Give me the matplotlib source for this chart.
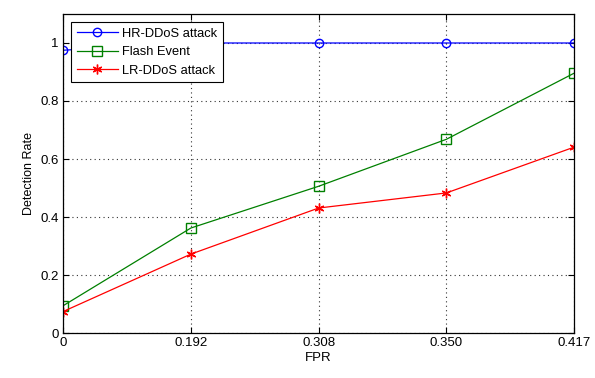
import matplotlib
matplotlib.use("Agg")
import matplotlib.pyplot as plt

plt.rcParams['font.family'] = ['Liberation Sans', 'DejaVu Sans']
plt.rcParams['font.size'] = 9.5

fpr_labels = ['0', '0.192', '0.308', '0.350', '0.417']
hr_ddos = [0.975, 1.0, 1.0, 1.0, 1.0]
flash_event = [0.094, 0.362, 0.506, 0.668, 0.896]
lr_ddos = [0.074, 0.272, 0.431, 0.483, 0.641]

x = list(range(len(fpr_labels)))

fig = plt.figure(figsize=(5.95, 3.78), dpi=100)
ax = fig.add_axes([0.106, 0.119, 0.859, 0.844])

ax.plot(x, hr_ddos, color='blue', marker='o', markersize=6, mfc='none',
        linewidth=0.9, label='HR-DDoS attack')
ax.plot(x, flash_event, color='green', marker='s', markersize=6.5, mfc='none',
        linewidth=0.9, label='Flash Event')
ax.plot(x, lr_ddos, color='red', marker=(6, 2, 0), markersize=7,
        markeredgewidth=1.0, linewidth=0.9, label='LR-DDoS attack')

ax.set_xlim(0, len(x) - 1)
ax.set_ylim(0, 1.1)
ax.set_xticks(x)
ax.set_xticklabels(fpr_labels)
ax.set_yticks([0, 0.2, 0.4, 0.6, 0.8, 1.0])
ax.set_yticklabels(['0', '0.2', '0.4', '0.6', '0.8', '1'])
ax.tick_params(direction='in', length=4, top=True, right=True, pad=3)
ax.grid(True, linestyle=(0, (1, 3)), color='#333333', linewidth=0.8)

ax.set_xlabel('FPR', labelpad=2)
ax.set_ylabel('Detection Rate', labelpad=4, fontsize=9)

leg = ax.legend(loc='upper left', fancybox=False, framealpha=1,
                edgecolor='black', borderaxespad=0.6, handlelength=3.2,
                handletextpad=0.3, fontsize=9.3, borderpad=0.45,
                labelspacing=0.5)
leg.get_frame().set_linewidth(0.8)

for s in ax.spines.values():
    s.set_linewidth(0.9)

fig.savefig('out.png', dpi=100)
